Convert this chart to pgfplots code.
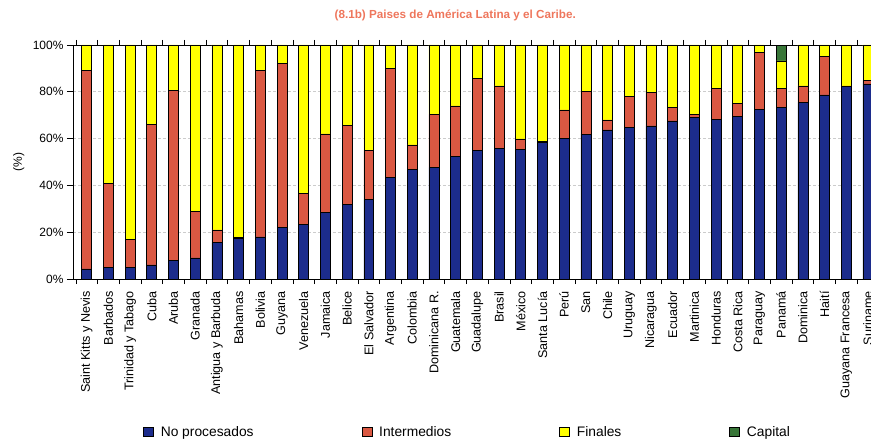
\documentclass[border=0pt]{standalone}
\usepackage{pgfplots}
\pgfplotsset{compat=1.18}
\usepackage{pgfplotstable}
\usepackage{fontspec}
\setmainfont{Liberation Sans}
\definecolor{cblue}{RGB}{28,44,140}
\definecolor{cred}{RGB}{218,88,66}
\definecolor{cyel}{RGB}{255,255,0}
\definecolor{cgreen}{RGB}{56,118,56}
\definecolor{ctitle}{RGB}{238,118,92}

\pgfplotstableread{
x B R Y G
0 4.3 84.7 11.0 0
1 5.0 36.0 59.0 0
2 5.0 12.0 83.0 0
3 6.0 60.0 34.0 0
4 8.0 72.5 19.5 0
5 9.0 20.0 71.0 0
6 15.5 5.5 79.0 0
7 17.5 0.3 82.2 0
8 18.0 71.0 11.0 0
9 22.0 70.0 8.0 0
10 23.5 13.0 63.5 0
11 28.5 33.5 38.0 0
12 32.0 33.6 34.4 0
13 34.0 21.0 45.0 0
14 43.4 46.6 10.0 0
15 46.7 10.6 42.7 0
16 47.7 22.7 29.6 0
17 52.3 21.7 26.0 0
18 54.8 31.0 14.2 0
19 55.9 26.6 17.5 0
20 55.5 4.4 40.1 0
21 58.5 0.3 41.2 0
22 60.2 12.1 27.7 0
23 61.9 18.1 20.0 0
24 63.7 4.3 32.0 0
25 64.7 13.3 22.0 0
26 65.4 14.4 20.2 0
27 67.6 5.8 26.6 0
28 69.0 1.4 29.6 0
29 68.3 13.2 18.5 0
30 69.4 5.7 24.9 0
31 72.5 24.2 3.3 0
32 73.3 8.2 11.7 6.8
33 75.4 7.1 17.5 0
34 78.7 16.3 5.0 0
35 82.2 0.3 17.5 0
36 83.4 1.4 15.2 0
}\data

\pgfplotsset{sqleg/.style={legend image code/.code={\draw[##1,draw=black,line width=0.6bp] (0bp,-4.5bp) rectangle (10bp,4.5bp);}}}

\begin{document}
\begin{tikzpicture}
\begin{axis}[
  scale only axis, width=798bp, height=234bp,
  clip mode=individual,
  ybar stacked, bar width=0.46,
  xmin=-0.63, xmax=36.14, ymin=0, ymax=100,
  axis line style={black, line width=0.8bp},
  xtick=data,
  xticklabels={Saint Kitts y Nevis,Barbados,Trinidad y Tabago,Cuba,Aruba,Granada,Antigua y Barbuda,Bahamas,Bolivia,Guyana,Venezuela,Jamaica,Belice,El Salvador,Argentina,Colombia,Dominicana R.,Guatemala,Guadalupe,Brasil,México,Santa Lucía,Perú,San,Chile,Uruguay,Nicaragua,Ecuador,Martinica,Honduras,Costa Rica,Paraguay,Panamá,Dominica,Haití,Guayana Francesa,Suriname},
  xticklabel style={rotate=90, anchor=east, font=\fontsize{12.6bp}{14bp}\selectfont, inner sep=0bp},
  xticklabel shift=6bp,
  major x tick style={draw=none},
  minor xtick={-0.5,0.5,...,35.5},
  minor x tick style={black, line width=0.6bp},
  minor tick length=5bp,
  tick align=outside,
  major tick length=6bp,
  ytick={0,20,40,60,80,100},
  ytick style={black, line width=0.6bp},
  yticklabel={\pgfmathprintnumber{\tick}\%},
  yticklabel style={font=\fontsize{12bp}{14bp}\selectfont},
  /pgf/number format/assume math mode=true,
  ymajorgrids,
  major grid style={draw=gray!40, dash pattern=on 3bp off 2bp, line width=0.6bp},
  ylabel={(\%)},
  ylabel style={at={(axis description cs:-0.068,0.5)}, anchor=center, font=\fontsize{12bp}{14bp}\selectfont},
  legend columns=4,
  legend style={at={(axis description cs:0.0877,-0.654)}, anchor=west, draw=none, fill=none, inner sep=0pt,
    font=\fontsize{13.8bp}{15bp}\selectfont,
    nodes={inner xsep=0pt, inner ysep=1bp},
    /tikz/every odd column/.append style={column sep=7bp},
    /tikz/every even column/.append style={column sep=108bp}},
  every axis plot/.append style={draw=black, line width=0.6bp},
]
\addplot[fill=cblue, sqleg] table[x=x, y=B] {\data};
\addplot[fill=cred, sqleg] table[x=x, y=R] {\data};
\addplot[fill=cyel, sqleg] table[x=x, y=Y] {\data};
\addplot[fill=cgreen, sqleg] table[x=x, y=G] {\data};
\legend{No procesados, Intermedios, Finales, Capital}
\node[font=\bfseries\fontsize{11.7bp}{14bp}\selectfont, text=ctitle] at (axis description cs:0.479,1.128) {(8.1b) Paises de América Latina y el Caribe.};
\end{axis}
\pgfresetboundingbox
\useasboundingbox (-73bp,-164bp) rectangle (798bp,279bp);
\end{tikzpicture}
\end{document}
